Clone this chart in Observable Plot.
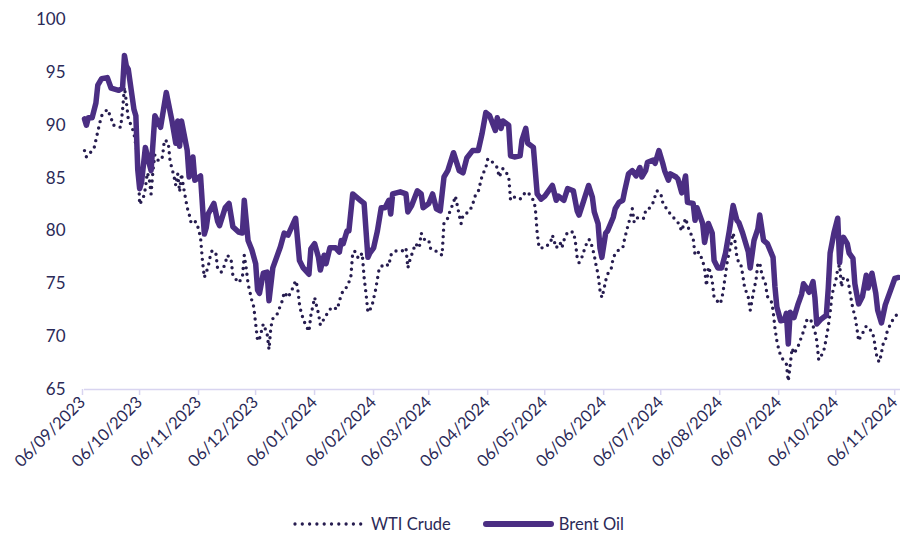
<!DOCTYPE html>
<html><head><meta charset="utf-8">
<script src="https://cdn.jsdelivr.net/npm/d3@7"></script>
<script src="https://cdn.jsdelivr.net/npm/@observablehq/plot@0.6"></script>
<style>
body{margin:0;background:#fff;font-family:Lato,"Open Sans",sans-serif;}
#chart{position:relative;width:900px;height:535px;overflow:hidden;}
#legend{position:absolute;left:293px;top:512px;display:flex;align-items:center;font-size:16.5px;color:#2b2a57;height:24px;}
</style></head><body>
<div id="chart"></div>
<script>
const brentDates = ["2023-09-06","2023-09-07","2023-09-08","2023-09-10","2023-09-12","2023-09-13","2023-09-15","2023-09-18","2023-09-20","2023-09-24","2023-09-26","2023-09-27","2023-09-28","2023-09-29","2023-10-02","2023-10-03","2023-10-04","2023-10-05","2023-10-06","2023-10-08","2023-10-10","2023-10-11","2023-10-13","2023-10-16","2023-10-19","2023-10-22","2023-10-24","2023-10-25","2023-10-26","2023-10-27","2023-10-30","2023-10-31","2023-11-02","2023-11-03","2023-11-06","2023-11-08","2023-11-09","2023-11-10","2023-11-13","2023-11-15","2023-11-16","2023-11-19","2023-11-21","2023-11-23","2023-11-26","2023-11-28","2023-11-29","2023-12-01","2023-12-03","2023-12-05","2023-12-06","2023-12-07","2023-12-09","2023-12-11","2023-12-12","2023-12-14","2023-12-18","2023-12-20","2023-12-22","2023-12-26","2023-12-28","2023-12-30","2024-01-02","2024-01-03","2024-01-05","2024-01-07","2024-01-08","2024-01-10","2024-01-11","2024-01-13","2024-01-16","2024-01-18","2024-01-19","2024-01-20","2024-01-22","2024-01-23","2024-01-25","2024-01-27","2024-01-29","2024-01-31","2024-02-02","2024-02-03","2024-02-05","2024-02-07","2024-02-09","2024-02-11","2024-02-13","2024-02-14","2024-02-15","2024-02-19","2024-02-22","2024-02-23","2024-02-25","2024-02-28","2024-03-01","2024-03-02","2024-03-05","2024-03-07","2024-03-09","2024-03-11","2024-03-13","2024-03-15","2024-03-18","2024-03-21","2024-03-23","2024-03-25","2024-03-28","2024-03-31","2024-04-02","2024-04-04","2024-04-06","2024-04-09","2024-04-10","2024-04-12","2024-04-13","2024-04-16","2024-04-17","2024-04-19","2024-04-22","2024-04-23","2024-04-25","2024-04-26","2024-04-29","2024-05-01","2024-05-03","2024-05-05","2024-05-09","2024-05-11","2024-05-12","2024-05-15","2024-05-17","2024-05-20","2024-05-22","2024-05-23","2024-05-25","2024-05-28","2024-05-30","2024-05-31","2024-06-02","2024-06-03","2024-06-04","2024-06-06","2024-06-07","2024-06-10","2024-06-11","2024-06-13","2024-06-15","2024-06-16","2024-06-18","2024-06-20","2024-06-22","2024-06-24","2024-06-25","2024-06-27","2024-06-28","2024-07-01","2024-07-02","2024-07-04","2024-07-06","2024-07-07","2024-07-09","2024-07-10","2024-07-13","2024-07-14","2024-07-16","2024-07-18","2024-07-19","2024-07-22","2024-07-23","2024-07-24","2024-07-27","2024-07-28","2024-07-30","2024-08-01","2024-08-02","2024-08-04","2024-08-06","2024-08-08","2024-08-10","2024-08-12","2024-08-14","2024-08-15","2024-08-17","2024-08-20","2024-08-21","2024-08-23","2024-08-25","2024-08-26","2024-08-28","2024-08-30","2024-09-02","2024-09-03","2024-09-04","2024-09-06","2024-09-08","2024-09-09","2024-09-10","2024-09-11","2024-09-13","2024-09-15","2024-09-17","2024-09-18","2024-09-20","2024-09-21","2024-09-23","2024-09-24","2024-09-25","2024-09-27","2024-09-29","2024-09-30","2024-10-01","2024-10-02","2024-10-04","2024-10-06","2024-10-07","2024-10-08","2024-10-09","2024-10-11","2024-10-12","2024-10-14","2024-10-15","2024-10-16","2024-10-17","2024-10-19","2024-10-21","2024-10-22","2024-10-24","2024-10-26","2024-10-27","2024-10-29","2024-10-31","2024-11-01","2024-11-03","2024-11-05","2024-11-07"];
const brentValues = [90.6,90.0,90.7,90.7,92.1,93.8,94.4,94.5,93.5,93.3,93.5,96.6,95.6,95.3,91.5,90.9,85.8,84.0,84.6,87.9,86.4,85.7,90.9,89.8,93.1,90.4,88.3,90.4,88.0,90.4,87.6,85.1,87.0,84.8,85.2,79.7,80.3,81.6,82.6,80.9,80.5,82.2,82.6,80.4,79.9,79.8,82.9,79.1,78.2,76.9,74.4,74.1,76.0,76.1,73.4,76.5,78.5,79.8,79.6,81.2,77.2,76.5,75.9,78.3,78.8,77.5,76.3,77.7,76.9,78.4,78.4,78.0,79.1,78.8,80.0,80.0,83.5,83.2,82.9,82.6,77.5,77.9,78.4,80.0,82.2,82.2,82.9,81.6,83.5,83.7,83.5,81.8,82.4,83.8,83.5,82.2,82.6,83.5,82.1,81.9,85.1,85.7,87.4,85.7,85.5,86.9,87.6,87.6,89.2,91.2,90.9,89.5,90.7,89.7,90.4,90.0,87.1,87.0,87.1,88.6,89.7,88.3,87.9,83.5,83.0,83.3,84.3,82.9,83.3,82.9,84.0,83.8,81.9,81.5,82.6,84.3,83.2,81.8,80.7,78.4,77.5,79.8,80.0,81.3,82.1,82.7,82.9,83.8,85.4,85.7,85.2,86.0,85.1,85.7,86.5,86.7,86.4,87.6,86.4,85.7,84.8,85.4,85.1,84.9,83.6,85.2,82.7,82.6,81.0,82.2,80.7,78.9,80.7,79.8,77.2,76.5,76.5,77.9,80.0,82.4,81.0,80.8,79.8,78.0,76.5,79.1,80.2,81.5,79.1,78.8,77.5,74.7,72.8,71.5,71.6,72.2,69.3,72.3,71.8,73.0,74.0,75.0,74.5,74.2,75.2,73.7,71.2,71.6,71.9,72.0,74.5,77.9,79.8,81.2,77.0,79.1,79.4,78.8,77.9,77.4,75.0,74.0,73.1,73.8,75.8,74.6,76.0,74.1,72.5,71.3,73.0,73.5,74.5,75.5,75.6];

const wtiDates = ["2023-09-06","2023-09-07","2023-09-09","2023-09-11","2023-09-12","2023-09-14","2023-09-15","2023-09-18","2023-09-20","2023-09-21","2023-09-22","2023-09-25","2023-09-26","2023-09-27","2023-09-28","2023-09-29","2023-10-01","2023-10-02","2023-10-04","2023-10-05","2023-10-07","2023-10-08","2023-10-09","2023-10-10","2023-10-11","2023-10-12","2023-10-13","2023-10-15","2023-10-17","2023-10-18","2023-10-20","2023-10-21","2023-10-23","2023-10-24","2023-10-25","2023-10-26","2023-10-27","2023-10-28","2023-10-30","2023-10-31","2023-11-01","2023-11-02","2023-11-04","2023-11-06","2023-11-07","2023-11-08","2023-11-10","2023-11-11","2023-11-12","2023-11-14","2023-11-15","2023-11-17","2023-11-19","2023-11-20","2023-11-22","2023-11-23","2023-11-26","2023-11-28","2023-11-29","2023-11-30","2023-12-01","2023-12-02","2023-12-03","2023-12-04","2023-12-05","2023-12-06","2023-12-07","2023-12-09","2023-12-11","2023-12-12","2023-12-13","2023-12-14","2023-12-16","2023-12-19","2023-12-20","2023-12-22","2023-12-24","2023-12-26","2023-12-27","2023-12-28","2023-12-29","2023-12-31","2024-01-02","2024-01-03","2024-01-05","2024-01-06","2024-01-07","2024-01-08","2024-01-10","2024-01-12","2024-01-14","2024-01-17","2024-01-18","2024-01-20","2024-01-22","2024-01-24","2024-01-25","2024-01-26","2024-01-28","2024-01-30","2024-01-31","2024-02-01","2024-02-02","2024-02-04","2024-02-06","2024-02-08","2024-02-11","2024-02-13","2024-02-14","2024-02-16","2024-02-20","2024-02-22","2024-02-23","2024-02-24","2024-02-27","2024-02-29","2024-03-01","2024-03-03","2024-03-05","2024-03-06","2024-03-10","2024-03-12","2024-03-13","2024-03-15","2024-03-16","2024-03-18","2024-03-19","2024-03-21","2024-03-22","2024-03-23","2024-03-26","2024-03-28","2024-03-29","2024-03-31","2024-04-02","2024-04-04","2024-04-05","2024-04-06","2024-04-09","2024-04-10","2024-04-11","2024-04-13","2024-04-16","2024-04-17","2024-04-19","2024-04-22","2024-04-24","2024-04-26","2024-04-29","2024-04-30","2024-05-01","2024-05-02","2024-05-05","2024-05-08","2024-05-09","2024-05-11","2024-05-13","2024-05-14","2024-05-15","2024-05-17","2024-05-20","2024-05-21","2024-05-22","2024-05-23","2024-05-25","2024-05-26","2024-05-28","2024-05-29","2024-05-31","2024-06-01","2024-06-02","2024-06-03","2024-06-04","2024-06-05","2024-06-06","2024-06-07","2024-06-09","2024-06-10","2024-06-12","2024-06-14","2024-06-15","2024-06-16","2024-06-18","2024-06-19","2024-06-20","2024-06-21","2024-06-23","2024-06-26","2024-06-27","2024-06-28","2024-07-01","2024-07-02","2024-07-03","2024-07-05","2024-07-06","2024-07-08","2024-07-10","2024-07-12","2024-07-14","2024-07-16","2024-07-18","2024-07-20","2024-07-22","2024-07-23","2024-07-25","2024-07-27","2024-07-28","2024-07-29","2024-07-30","2024-07-31","2024-08-01","2024-08-02","2024-08-05","2024-08-06","2024-08-07","2024-08-08","2024-08-09","2024-08-11","2024-08-12","2024-08-13","2024-08-14","2024-08-15","2024-08-16","2024-08-17","2024-08-18","2024-08-20","2024-08-21","2024-08-22","2024-08-23","2024-08-24","2024-08-25","2024-08-26","2024-08-27","2024-08-28","2024-08-29","2024-08-30","2024-09-01","2024-09-02","2024-09-03","2024-09-04","2024-09-05","2024-09-06","2024-09-07","2024-09-09","2024-09-10","2024-09-11","2024-09-12","2024-09-13","2024-09-15","2024-09-17","2024-09-18","2024-09-19","2024-09-20","2024-09-22","2024-09-23","2024-09-24","2024-09-25","2024-09-26","2024-09-28","2024-09-29","2024-09-30","2024-10-01","2024-10-02","2024-10-03","2024-10-05","2024-10-06","2024-10-07","2024-10-08","2024-10-09","2024-10-11","2024-10-12","2024-10-13","2024-10-14","2024-10-15","2024-10-16","2024-10-17","2024-10-18","2024-10-19","2024-10-21","2024-10-22","2024-10-24","2024-10-25","2024-10-26","2024-10-27","2024-10-28","2024-10-29","2024-10-30","2024-10-31","2024-11-01","2024-11-03","2024-11-05","2024-11-07"];
const wtiValues = [87.6,87.0,87.4,87.8,88.6,90.2,90.9,91.5,90.7,90.0,90.0,89.8,91.4,93.6,92.2,90.6,89.8,89.2,87.0,82.5,83.2,84.0,85.5,85.0,83.5,85.7,87.2,86.6,87.0,88.6,88.4,86.6,85.2,84.3,85.4,83.7,85.4,84.2,82.2,81.6,80.8,81.0,80.8,79.4,77.2,75.6,76.6,77.5,78.1,78.0,76.4,76.1,76.9,77.7,77.4,75.8,75.1,75.6,77.7,76.5,75.0,74.2,73.4,72.8,71.2,69.6,69.8,71.2,70.3,68.8,70.9,71.7,72.0,73.4,74.2,73.7,74.4,75.3,74.7,73.1,72.2,71.2,70.5,72.0,73.7,72.9,72.2,71.1,71.7,72.3,72.8,72.6,73.4,74.4,74.7,75.6,77.9,78.1,77.4,77.9,75.6,74.1,72.3,72.8,74.4,76.5,76.9,76.7,77.7,78.1,78.1,78.4,76.5,77.2,78.8,78.4,79.8,79.1,79.1,78.3,78.0,77.7,80.8,81.2,81.8,82.7,83.3,81.5,80.7,81.5,81.8,82.4,83.2,83.7,85.2,86.0,86.8,86.8,86.2,86.0,85.1,85.9,85.2,82.9,83.2,83.0,83.5,83.7,82.9,82.2,79.8,78.4,78.4,78.9,79.6,78.4,78.9,78.4,79.1,79.9,79.9,79.1,77.5,77.0,77.7,78.4,79.2,79.1,77.7,76.7,75.9,74.4,73.7,74.4,75.3,75.9,76.5,77.5,78.1,78.3,78.4,79.3,80.7,81.3,82.1,80.8,81.3,81.2,81.9,81.9,82.7,83.3,83.8,83.5,82.7,82.1,81.6,81.2,80.8,80.0,81.2,80.0,79.3,77.7,78.0,77.2,76.4,74.8,76.6,76.1,75.3,73.7,73.1,73.5,74.6,75.9,77.2,78.8,79.8,79.0,77.5,77.0,76.9,75.9,74.7,73.7,72.5,73.5,74.5,75.3,76.9,77.0,76.0,75.4,75.0,73.8,73.4,72.5,70.8,69.6,68.8,68.2,67.9,67.4,65.8,67.3,68.9,68.4,69.0,70.0,70.5,71.1,71.7,71.5,71.0,70.5,69.6,67.8,68.4,68.9,69.9,70.9,72.3,74.0,75.3,76.4,76.8,74.7,75.6,75.5,74.7,73.6,72.6,72.0,70.9,69.6,70.0,70.3,71.0,70.8,70.5,69.9,68.6,67.8,67.6,68.5,69.4,69.6,70.5,71.3,71.9,72.2];

const tickDates = ["2023-09-06","2023-10-06","2023-11-06","2023-12-06","2024-01-06","2024-02-06","2024-03-06","2024-04-06","2024-05-06","2024-06-06","2024-07-06","2024-08-06","2024-09-06","2024-10-06","2024-11-06"];
const yTicks = [65,70,75,80,85,90,95,100];
const xStart = "2023-09-06", xEnd = "2024-11-08";
const seriesNames = ["WTI Crude","Brent Oil"];

const parse = d3.utcParse("%Y-%m-%d");
const brent = brentDates.map((d,i)=>({date:parse(d), value:brentValues[i]}));
const wti = wtiDates.map((d,i)=>({date:parse(d), value:wtiValues[i]}));
const textColor = "#2b2a57", wtiColor = "#261c4f", brentColor = "#4b2e83", axisColor = "#d8d4f0";

const chart = Plot.plot({
  width: 900, height: 500,
  marginLeft: 84, marginRight: 0, marginTop: 19, marginBottom: 111,
  style: {fontFamily: "Lato, 'Open Sans', sans-serif", background: "#fff", overflow: "visible"},
  x: {type: "utc", domain: [parse(xStart), parse(xEnd)]},
  y: {domain: [65, 100]},
  marks: [
    Plot.axisY({ticks: yTicks, tickSize: 0, tickPadding: 19, label: null, fontSize: 17, fill: textColor}),
    Plot.ruleY([65], {stroke: axisColor, strokeWidth: 1.5}),
    Plot.axisX({ticks: tickDates.map(parse), tickFormat: d3.utcFormat("%d/%m/%Y"), tickRotate: -45, tickSize: 6, tickPadding: 4, stroke: axisColor, strokeWidth: 1.5, fill: textColor, label: null, fontSize: 16.5, dx: -2}),
    Plot.line(wti, {x: "date", y: "value", stroke: wtiColor, strokeWidth: 3.4, strokeDasharray: "0 6.5", strokeLinecap: "round", strokeLinejoin: "round"}),
    Plot.line(brent, {x: "date", y: "value", stroke: brentColor, strokeWidth: 5.5, strokeLinejoin: "round"})
  ]
});
const host = document.getElementById("chart");
host.appendChild(chart);

const legend = document.createElement("div");
legend.id = "legend";
legend.innerHTML = `
  <svg width="70" height="12"><line x1="2" y1="6" x2="68" y2="6" stroke="${wtiColor}" stroke-width="3.3" stroke-dasharray="0 7.3" stroke-linecap="round"/></svg>
  <span style="margin-left:8px">${seriesNames[0]}</span>
  <svg style="margin-left:32px" width="71" height="12"><line x1="3" y1="6" x2="68" y2="6" stroke="${brentColor}" stroke-width="6" stroke-linecap="round"/></svg>
  <span style="margin-left:5px">${seriesNames[1]}</span>`;
host.appendChild(legend);
</script>
</body></html>
